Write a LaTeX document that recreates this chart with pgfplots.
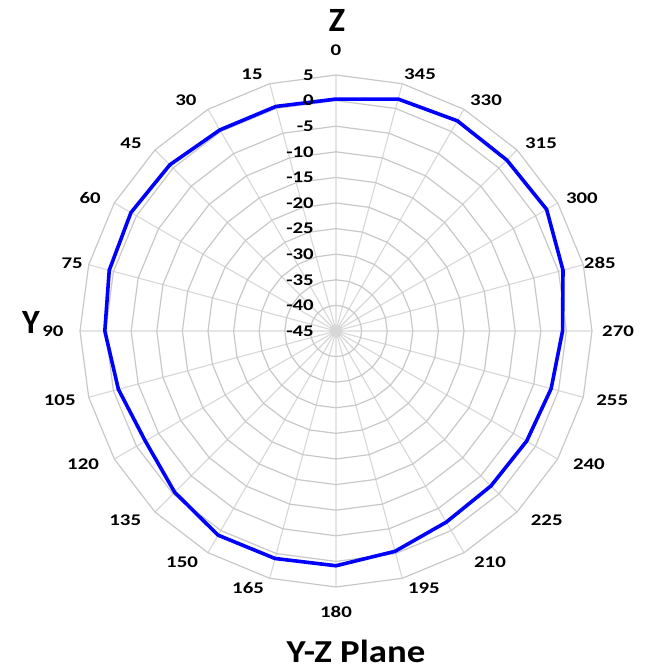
\documentclass[border=0pt]{standalone}
\usepackage{fontspec}
\setmainfont{Carlito}
\newfontfamily\tickfont[FakeStretch=1.28]{Carlito}
\newfontfamily\titlefont[FakeStretch=1.15]{Carlito}
\usepackage{pgfplots}
\usepackage{pgfplotstable}
\usepgfplotslibrary{polar}
\pgfplotsset{compat=1.18}

\pgfplotstableread{
ang val
0 0.3
15 0.4
30 0.35
45 0.9
60 1.25
75 0.85
90 0.15
105 -1.0
120 -2.0
135 -0.45
150 1.05
165 1.0
180 0.85
195 -0.45
210 -1.9
225 -2.2
240 -2.0
255 -1.5
270 -0.75
285 0.9
300 2.5
315 2.2
330 2.4
345 1.9
360 0.3
}\datatable

\pgfplotstableread{
a r
0 0
15 0
30 0
45 0
60 0
75 0
90 0
105 0
120 0
135 0
150 0
165 0
180 0
195 0
210 0
225 0
240 0
255 0
270 0
285 0
300 0
315 0
330 0
345 0
360 0
}\ringangles

\definecolor{ringgray}{RGB}{200,200,200}
\definecolor{spokegray}{RGB}{215,215,215}
\tikzset{lbl/.style={font={\tickfont\bfseries\fontsize{16.3}{18}\selectfont}, inner sep=0pt}}

\begin{document}
\begin{tikzpicture}
\begin{polaraxis}[
  at={(0,0)}, anchor=center,
  width=512pt, height=512pt, scale only axis,
  xmin=0, xmax=360, ymin=0, ymax=50,
  xtick={0,15,...,345}, xticklabels={},
  ytick=\empty,
  xmajorgrids, ymajorgrids=false,
  major grid style={spokegray, line width=1.1pt},
  major tick length=0pt,
  axis line style={draw=none},
  clip=false,
]
\pgfplotsinvokeforeach{5,10,15,20,25,30,35,40,45,50}{
  \addplot[ringgray, line width=1.2pt, mark=none] table[x expr=\thisrow{a}+90, y expr=\thisrow{r}+#1] {\ringangles};
}
\addplot[blue, line width=3.6pt, line join=round, mark=none]
  table[x expr=\thisrow{ang}+90, y expr=\thisrow{val}+45] {\datatable};

% angular labels
\node[lbl] at (axis cs:90,54.9) {0};
\node[lbl] at (axis cs:108.1,52.8) {15};
\node[lbl] at (axis cs:123.0,53.8) {30};
\node[lbl] at (axis cs:137.5,54.3) {45};
\node[lbl] at (axis cs:151.6,54.6) {60};
\node[lbl] at (axis cs:165.6,53.2) {75};
\node[lbl] at (axis cs:180,55.3) {90};
\node[lbl] at (axis cs:194.0,55.6) {105};
\node[lbl] at (axis cs:207.7,55.8) {120};
\node[lbl] at (axis cs:221.9,55.3) {135};
\node[lbl] at (axis cs:236.3,54.2) {150};
\node[lbl] at (axis cs:251.1,53.0) {165};
\node[lbl] at (axis cs:270,54.9) {180};
\node[lbl] at (axis cs:288.9,53.0) {195};
\node[lbl] at (axis cs:303.7,54.2) {210};
\node[lbl] at (axis cs:318.1,55.3) {225};
\node[lbl] at (axis cs:332.3,55.8) {240};
\node[lbl] at (axis cs:346.0,55.6) {255};
\node[lbl] at (axis cs:0,55.1) {270};
\node[lbl] at (axis cs:14.4,53.2) {285};
\node[lbl] at (axis cs:28.4,54.6) {300};
\node[lbl] at (axis cs:42.5,54.3) {315};
\node[lbl] at (axis cs:57.0,53.8) {330};
\node[lbl] at (axis cs:71.9,52.8) {345};

% radial labels
\node[lbl, anchor=east, xshift=-22pt] at (axis cs:90,50) {5};
\node[lbl, anchor=east, xshift=-22pt] at (axis cs:90,45) {0};
\node[lbl, anchor=east, xshift=-22pt] at (axis cs:90,40) {-5};
\node[lbl, anchor=east, xshift=-22pt] at (axis cs:90,35) {-10};
\node[lbl, anchor=east, xshift=-22pt] at (axis cs:90,30) {-15};
\node[lbl, anchor=east, xshift=-22pt] at (axis cs:90,25) {-20};
\node[lbl, anchor=east, xshift=-22pt] at (axis cs:90,20) {-25};
\node[lbl, anchor=east, xshift=-22pt] at (axis cs:90,15) {-30};
\node[lbl, anchor=east, xshift=-22pt] at (axis cs:90,10) {-35};
\node[lbl, anchor=east, xshift=-22pt] at (axis cs:90,5) {-40};
\node[lbl, anchor=east, xshift=-22pt] at (axis cs:90,0) {-45};
\end{polaraxis}
\node[font=\bfseries\fontsize{34}{36}\selectfont] at (1pt,311pt) {Z};
\node[font=\bfseries\fontsize{34}{36}\selectfont] at (-305pt,9pt) {Y};
\node[font=\titlefont\bfseries\fontsize{32}{34}\selectfont, anchor=base, inner sep=0pt] at (20pt,-331pt) {Y-Z Plane};
\pgfresetboundingbox
\useasboundingbox (-336pt,-338pt) rectangle (310pt,331pt);
\end{tikzpicture}
\end{document}
